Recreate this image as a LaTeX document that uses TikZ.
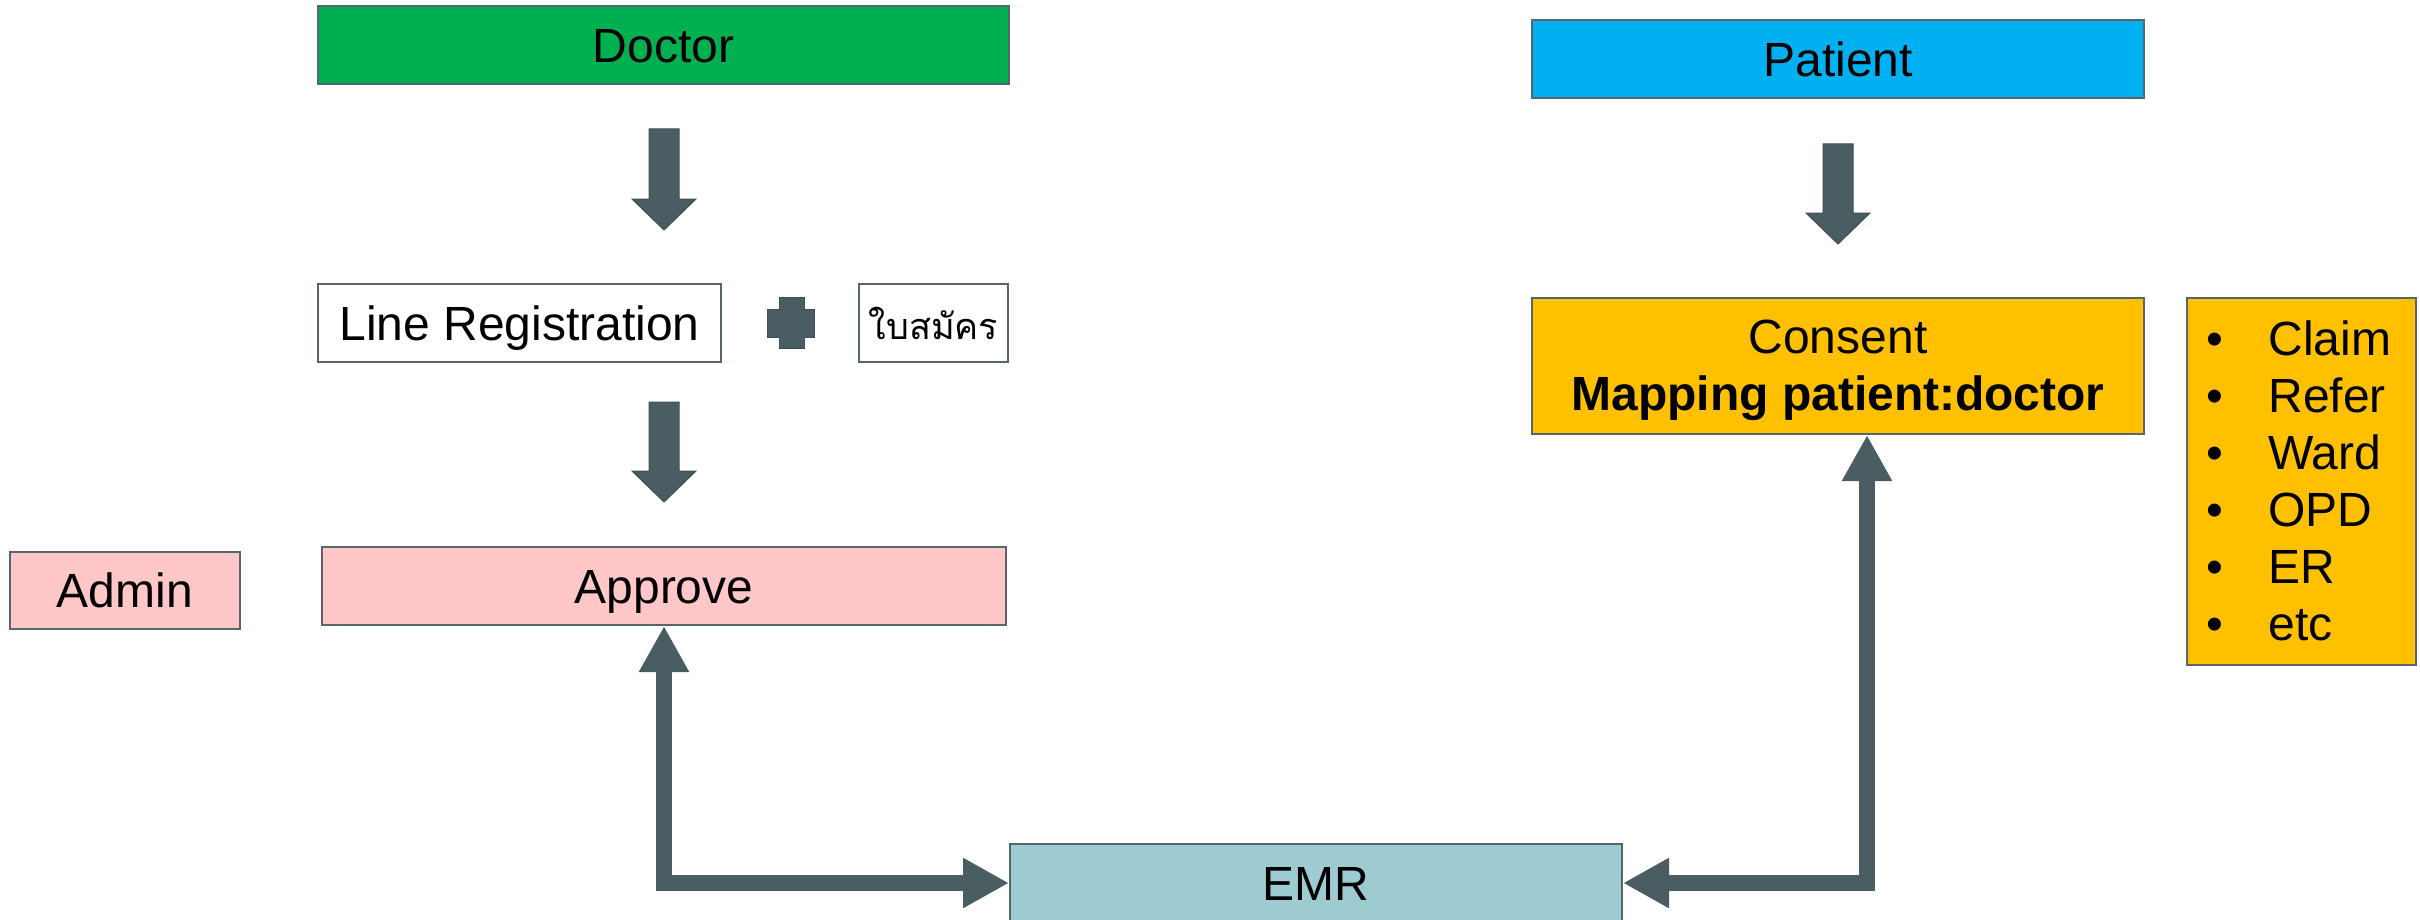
\documentclass[tikz,border=0pt]{standalone}
\usepackage{fontspec}
\setmainfont{Liberation Sans}
\newfontfamily\thaifont[Script=Thai]{Loma}
\usetikzlibrary{arrows.meta,calc}
\definecolor{slate}{HTML}{4A5D63}
\definecolor{edge}{HTML}{55666C}
\definecolor{docgreen}{HTML}{00B050}
\definecolor{patblue}{HTML}{00B0F0}
\definecolor{gold}{HTML}{FFC000}
\definecolor{pinkbox}{HTML}{FFC7C7}
\definecolor{emrblue}{HTML}{9ECBD2}
\newcommand\blockdown[4]{%
  \filldraw[blockarrow] (#1-15,#2) -- (#1+15,#2) -- (#1+15,#3) -- (#1+32,#3) -- (#1,#4) -- (#1-32,#3) -- (#1-15,#3) -- cycle;}
\begin{document}
\begin{tikzpicture}[x=0.5pt,y=-0.5pt,
  box/.style={draw=edge, line width=1pt, inner sep=0pt, align=center,
    font=\fontsize{24}{28.5}\selectfont},
  oneline/.style={text height=17.2pt, text depth=0pt},
  blockarrow/.style={fill=slate, draw=slate!85!black, line width=0.5pt, line join=miter},
  conn/.style={draw=slate, line width=8pt, line join=miter,
    {Triangle[width=23.5pt,length=23pt]}-{Triangle[width=23.5pt,length=23pt]}}
]
\useasboundingbox (0,0) rectangle (2420,920);
\fill[white] (0,0) rectangle (2420,920);

\node[box, oneline, fill=docgreen, minimum width=345.5pt, minimum height=39pt] (doctor) at (663.5,45) {Doctor};
\node[box, oneline, fill=white, minimum width=201.5pt, minimum height=39pt] (linereg) at (519.5,323) {Line Registration};
\node[box, fill=white, minimum width=74.5pt, minimum height=39pt, font=\thaifont\fontsize{18}{21}\selectfont] (form) at (933.5,323) {ใบสมัคร};
\node[box, oneline, fill=pinkbox, minimum width=342pt, minimum height=39pt] (approve) at (664,586) {Approve};
\node[box, oneline, fill=pinkbox, minimum width=115pt, minimum height=38.5pt] (admin) at (125,590.5) {Admin};
\node[box, oneline, fill=patblue, minimum width=306pt, minimum height=39pt] (patient) at (1838,59) {Patient};
\node[box, fill=gold, minimum width=306pt, minimum height=68pt] (consent) at (1838,366)
  {\raisebox{-2.5pt}[\height][\depth]{\begin{tabular}{@{}c@{}}Consent\\\textbf{Mapping patient:doctor}\end{tabular}}};
\node[box, fill=gold, minimum width=114.5pt, minimum height=183.5pt] (list) at (2301.5,481.5) {};
\node[anchor=base west, inner sep=0pt, font=\fontsize{24}{28.5}\selectfont] (items) at (2206,355)
  {\begin{tabular}[t]{@{}l@{}}
   \makebox[31pt][l]{•}Claim\\
   \makebox[31pt][l]{•}Refer\\
   \makebox[31pt][l]{•}Ward\\
   \makebox[31pt][l]{•}OPD\\
   \makebox[31pt][l]{•}ER\\
   \makebox[31pt][l]{•}etc
   \end{tabular}};
\node[box, oneline, fill=emrblue, minimum width=306pt, minimum height=39pt] (emr) at (1316,883) {EMR};

% block arrows
\blockdown{664}{129}{199}{230}
\blockdown{664}{402}{471}{502}
\blockdown{1838}{144}{213}{244}

% plus sign
\filldraw[blockarrow] (779,297) -- (804,297) -- (804,309) -- (814,309) -- (814,337) -- (804,337)
  -- (804,348) -- (779,348) -- (779,337) -- (767,337) -- (767,309) -- (779,309) -- cycle;

% connectors
\coordinate (rc) at ([xshift=14.5pt]consent.south);
\draw[conn] (approve.south) -- (approve.south |- emr.west) -- (emr.west);
\draw[conn] (emr.east) -- (emr.east -| rc) -- (rc);
\end{tikzpicture}
\end{document}
